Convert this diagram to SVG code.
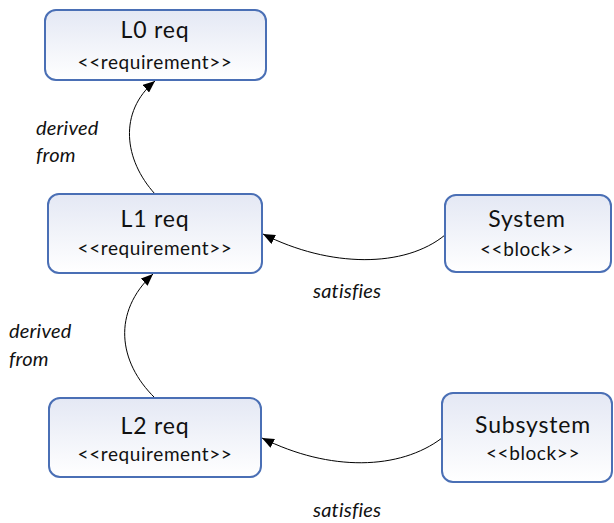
<svg xmlns="http://www.w3.org/2000/svg" width="614" height="523" viewBox="0 0 614 523">
<defs>
<linearGradient id="g" x1="0" y1="0" x2="0" y2="1">
<stop offset="0" stop-color="#e4e8f4"/>
<stop offset="1" stop-color="#ffffff"/>
</linearGradient>
<marker id="arr" viewBox="0 0 12 10" refX="12" refY="5" markerWidth="12" markerHeight="10" markerUnits="userSpaceOnUse" orient="auto">
<path d="M0,0 L12,5 L0,10 Z" fill="#000"/>
</marker>
<style>
.box{fill:url(#g);stroke:#4a6fb5;stroke-width:2}
.t{font-family:Lato,"Open Sans","Liberation Sans",sans-serif;fill:#111;text-anchor:middle}
.title{font-size:23px;letter-spacing:0.8px}
.sub{font-size:19px;letter-spacing:0.6px}
.lbl{font-family:Lato,"Open Sans","Liberation Sans",sans-serif;font-style:italic;font-size:20px;letter-spacing:0.2px;fill:#111}
.c{fill:none;stroke:#000;stroke-width:1}
</style>
</defs>
<g id="connectors">
<path class="c" d="M155,194 C124,160 118,112 155,81" marker-end="url(#arr)"/>
<path class="c" d="M155,398 C118,362 112,312 153,274" marker-end="url(#arr)"/>
<path class="c" d="M445,235 C405,268 330,268 263,234" marker-end="url(#arr)"/>
<path class="c" d="M442,438 C400,470 330,472 262,438" marker-end="url(#arr)"/>
<text class="lbl" x="36" y="135">derived</text>
<text class="lbl" x="36" y="162">from</text>
<text class="lbl" x="9" y="338">derived</text>
<text class="lbl" x="9" y="366">from</text>
<text class="lbl" x="313" y="298">satisfies</text>
<text class="lbl" x="313" y="517">satisfies</text>
</g>
<g id="L0">
<rect class="box" x="45" y="10" width="221" height="70" rx="11"/>
<text class="t title" x="155" y="38">L0 req</text>
<text class="t sub" x="155" y="69">&lt;&lt;requirement&gt;&gt;</text>
</g>
<g id="L1">
<rect class="box" x="48" y="194" width="214" height="79" rx="11"/>
<text class="t title" x="155" y="227">L1 req</text>
<text class="t sub" x="155" y="255">&lt;&lt;requirement&gt;&gt;</text>
</g>
<g id="L2">
<rect class="box" x="49" y="398" width="212" height="79" rx="11"/>
<text class="t title" x="155" y="434">L2 req</text>
<text class="t sub" x="155" y="461">&lt;&lt;requirement&gt;&gt;</text>
</g>
<g id="System">
<rect class="box" x="445" y="195" width="166" height="77" rx="11"/>
<text class="t title" x="527" y="227">System</text>
<text class="t sub" x="527" y="256">&lt;&lt;block&gt;&gt;</text>
</g>
<g id="Subsystem">
<rect class="box" x="442" y="393" width="170" height="89" rx="11"/>
<text class="t title" x="533" y="433">Subsystem</text>
<text class="t sub" x="533" y="460">&lt;&lt;block&gt;&gt;</text>
</g>
</svg>
